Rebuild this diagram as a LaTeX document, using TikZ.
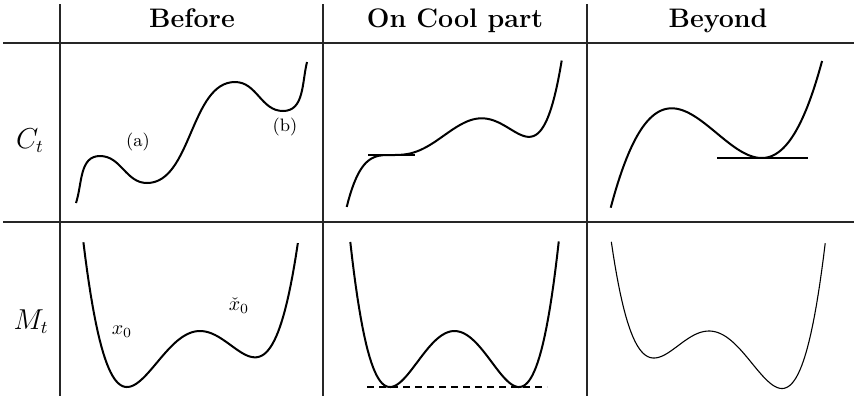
\documentclass[tikz,border=0pt]{standalone}
\usepackage{amsmath}
\begin{document}
\begin{tikzpicture}[x=0.5pt,y=0.5pt,
  declare function={
    quart(\xu,\xb,\xc)=\xu*\xu*\xu*\xu/4-(\xb+\xc)*\xu*\xu*\xu/3+\xb*\xc*\xu*\xu/2;
    quint(\xu,\xb,\xc)=\xu*\xu*\xu*\xu*\xu/5-(\xb+\xc)*\xu*\xu*\xu*\xu/4+\xb*\xc*\xu*\xu*\xu/3;
    cub(\xu,\xb)=\xu*\xu*\xu/3-\xb*\xu*\xu/2;},
  rule/.style={line width=0.7pt,black!85},
  curve/.style={line width=1pt},
  thincurve/.style={line width=0.55pt},
  tangent/.style={line width=1pt},
  head/.style={anchor=base,font=\fontsize{13.4}{16}\selectfont\bfseries},
  rowlbl/.style={anchor=base,font=\fontsize{13.5}{16}\selectfont},
  tag/.style={anchor=base,font=\small}]
\useasboundingbox (0,0) rectangle (854,-398);
% table rules
\draw[rule] (3,-43) -- (854,-43);
\draw[rule] (3,-222) -- (854,-222);
\foreach \x in {60,323,587}
  \draw[rule] (\x,-4) -- (\x,-396);
% headers
\node[head] (before) at (192,-27) {Before};
\node[head] (cool) at (455,-27) {On Cool part};
\node[head] (beyond) at (718,-27) {Beyond};
\node[rowlbl] (ct) at (30,-148) {$C_t$};
\node[rowlbl] (mt) at (31,-329) {$M_t$};
% C_t row
\draw[curve] (76,-203) to[out=72,in=180] (100,-156) to[out=0,in=180] (147,-183)
  to[out=0,in=180,looseness=0.85] (235,-82) to[out=0,in=180] (283,-111)
  to[out=0,in=-104] (307,-62);
\node[tag] (a) at (138,-146) {(a)};
\node[tag] (b) at (285,-131) {(b)};
\begin{scope}[shift={(391.7,-155)},x=50pt]
  \draw[curve] plot[domain=-0.45:1.70,samples=120] (\x,{806*quint(\x,0.90,1.373)});
\end{scope}
\draw[tangent] (368,-155) -- (415,-155);
\begin{scope}[shift={(671.7,-108.3)},x=50pt]
  \draw[curve] plot[domain=-0.61:1.505,samples=120] (\x,{409*cub(\x,0.9)});
\end{scope}
\draw[tangent] (717,-158) -- (808,-158);
% M_t row
\begin{scope}[shift={(127,-387)},x=50pt]
  \draw[curve] plot[domain=-0.436:1.71,samples=120] (\x,{944*quart(\x,0.73,1.28)});
\end{scope}
\node[anchor=base] (x0) at (122,-334) {$x_0$};
\node[anchor=base] (x0c) at (239,-310) {$\check{x}_0$};
\begin{scope}[shift={(390,-387)},x=50pt]
  \draw[curve] plot[domain=-0.397:1.688,samples=120] (\x,{1294*quart(\x,0.645,1.29)});
\end{scope}
\draw[tangent,dash pattern=on 3.5pt off 2.5pt] (367,-387) -- (547,-387);
\begin{scope}[shift={(654,-358)},x=50pt]
  \draw[thincurve] plot[domain=-0.427:1.713,samples=120] (\x,{969*quart(\x,0.55,1.28)});
\end{scope}
\end{tikzpicture}
\end{document}
